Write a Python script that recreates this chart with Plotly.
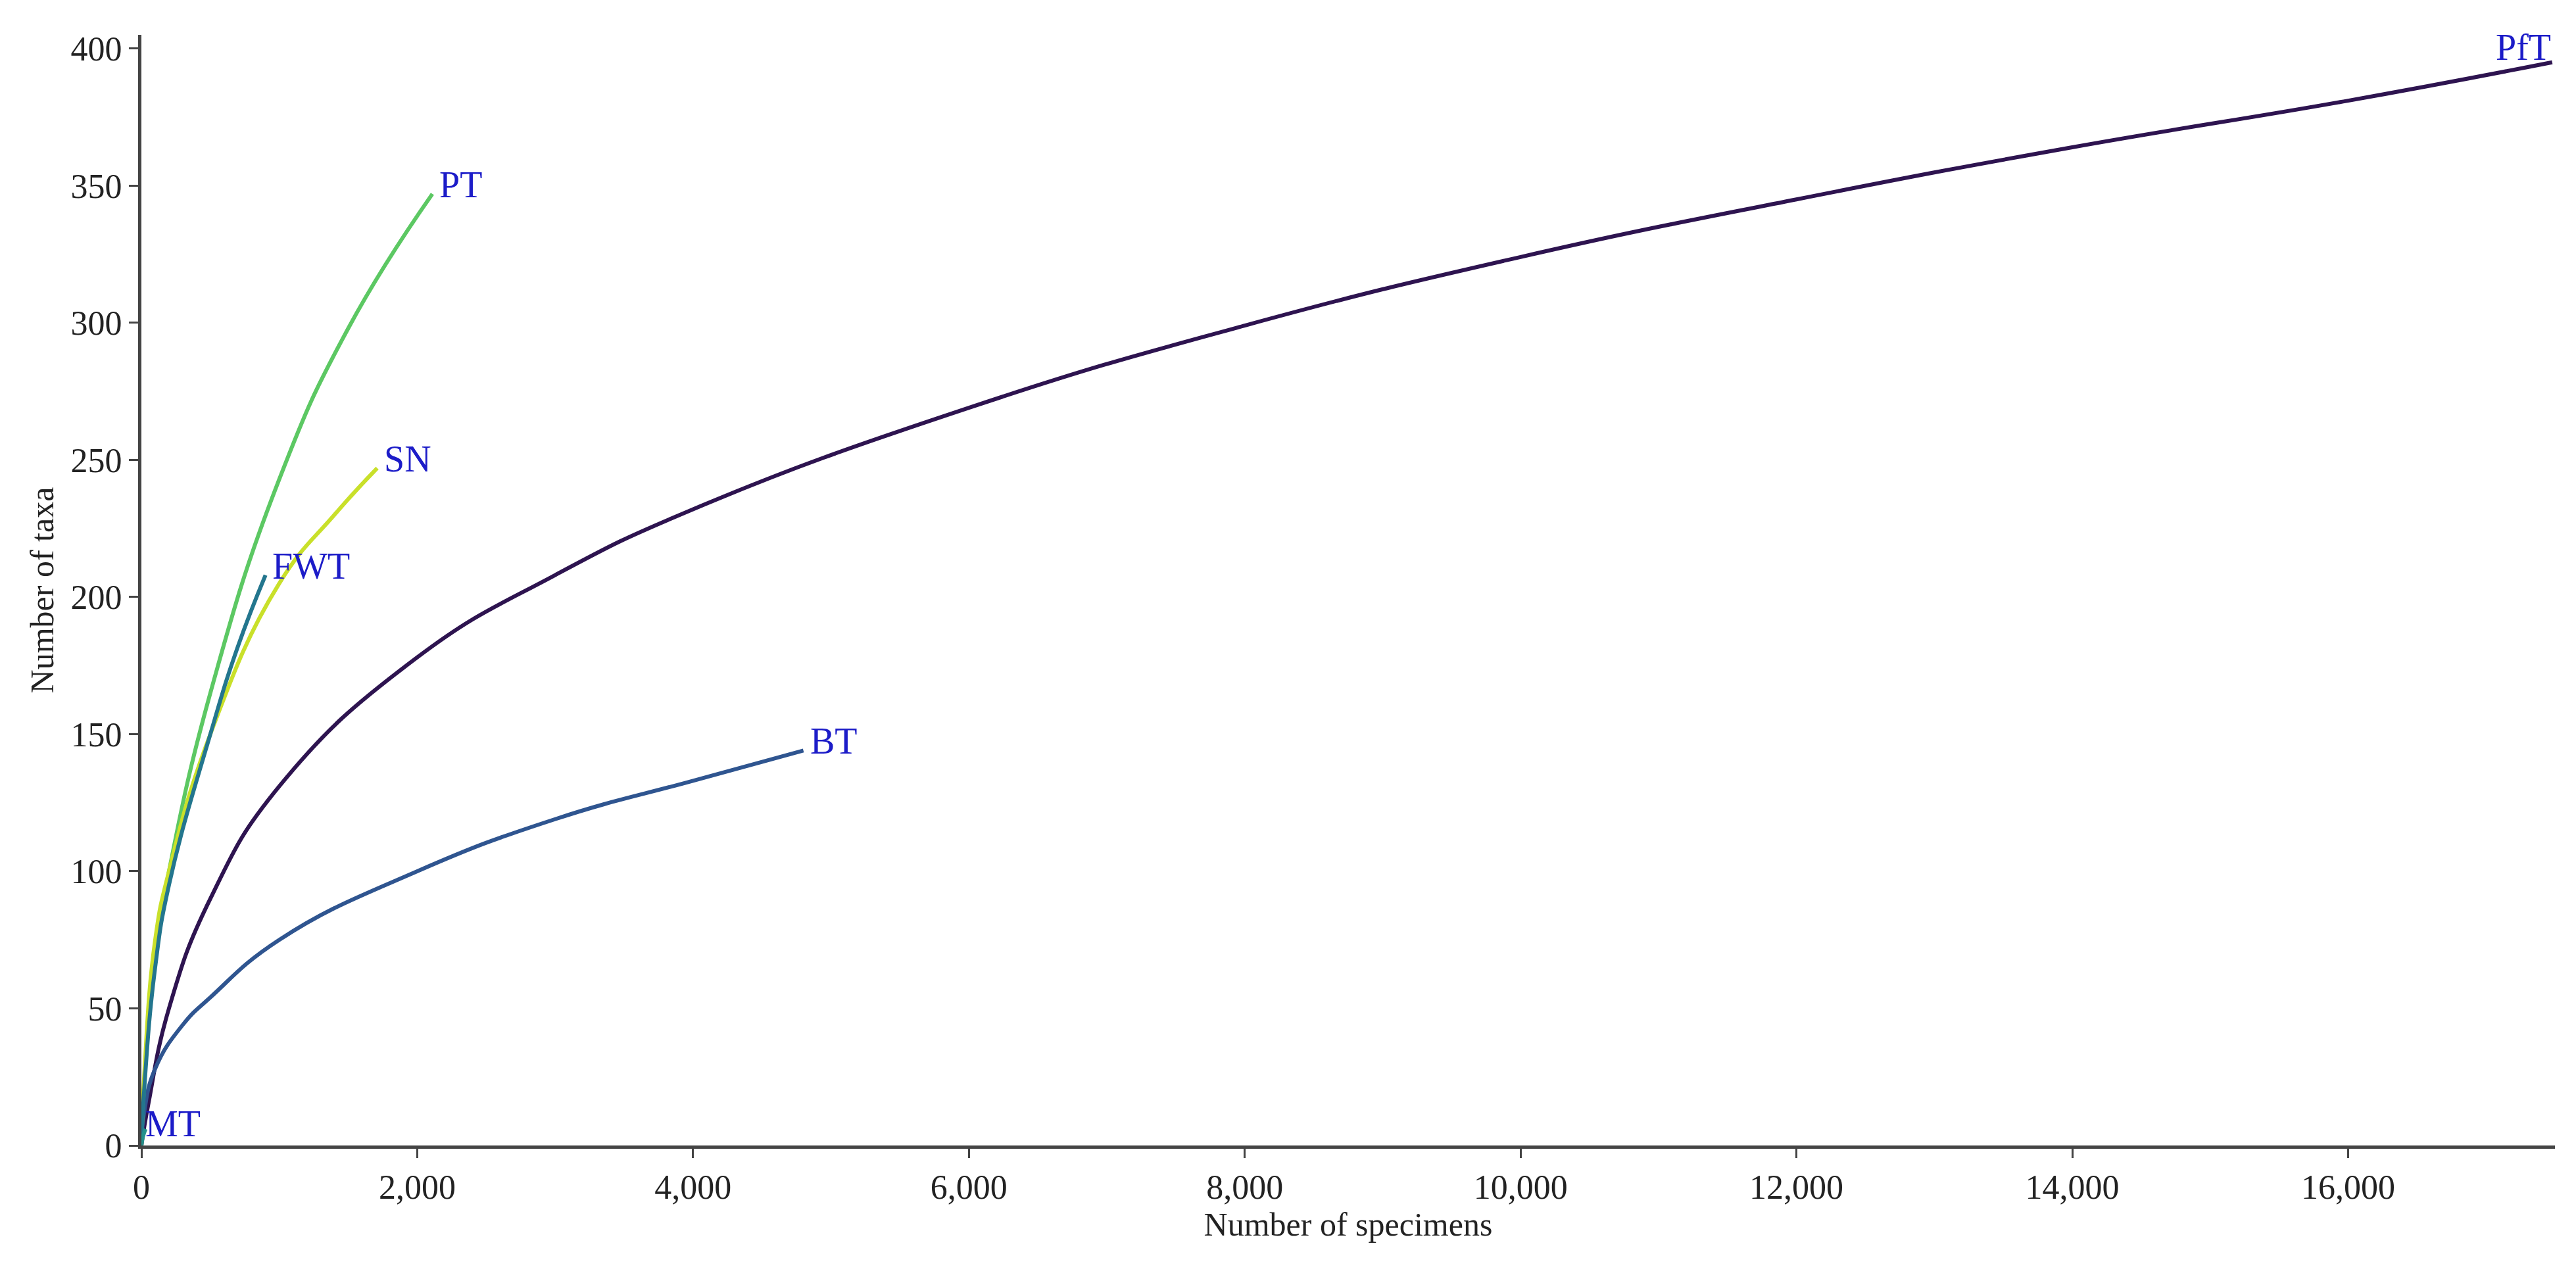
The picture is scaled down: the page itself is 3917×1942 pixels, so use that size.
import plotly.graph_objects as go

names = ["PfT", "BT", "PT", "SN", "FWT", "MT"]
colors = ["#2e1450", "#2f5590", "#5cc863", "#c9e02a", "#23768e", "#21918c"]
pft_x = [0, 50, 200, 500, 1000, 2000, 3000, 4000, 6000, 8000, 10000, 12000, 14000, 16000, 17480]
pft_y = [0, 15, 50, 90, 131, 178, 208, 232, 269, 299, 324, 345, 364, 381, 395]
bt_x = [0, 20, 100, 300, 500, 1000, 2000, 3000, 4000, 4800]
bt_y = [0, 12, 28, 44, 54, 75, 100, 119, 133, 144]
pt_x = [0, 20, 100, 200, 500, 1000, 1500, 2110]
pt_y = [0, 22, 70, 100, 165, 243, 298, 347]
sn_x = [0, 20, 100, 200, 500, 1000, 1400, 1710]
sn_y = [0, 25, 75, 100, 150, 205, 230, 247]
fwt_x = [0, 20, 100, 200, 500, 700, 900]
fwt_y = [0, 20, 65, 95, 150, 182, 208]
mt_x = [0, 10, 30]
mt_y = [0, 3, 6]
xs = [pft_x, bt_x, pt_x, sn_x, fwt_x, mt_x]
ys = [pft_y, bt_y, pt_y, sn_y, fwt_y, mt_y]

lab_font = dict(color="#1c1cc8", size=56, family="Liberation Serif")
fig = go.Figure()
for n, c, x, y in zip(names, colors, xs, ys):
    fig.add_trace(go.Scatter(x=x, y=y, mode="lines", line=dict(color=c, width=6, shape="spline", smoothing=1.3), name=n))
    ax, ay = (x[-1], y[-1])
    if n == "MT":
        fig.add_annotation(x=20, y=0, text=n, showarrow=False, xanchor="left", yanchor="bottom", font=lab_font)
    elif n == "PfT":
        fig.add_annotation(x=ax, y=ay, text=n, showarrow=False, xanchor="right", yanchor="bottom", yshift=-10, font=lab_font)
    else:
        fig.add_annotation(x=ax, y=ay, text=n, showarrow=False, xanchor="left", xshift=8, yshift=14, font=lab_font)

fig.update_layout(
    width=3917, height=1942, showlegend=False, plot_bgcolor="white", paper_bgcolor="white",
    margin=dict(l=207, r=40, t=45, b=208),
    font=dict(family="Liberation Serif", size=52, color="#222"),
)
fig.update_xaxes(range=[0, 17500], tickvals=list(range(0, 17000, 2000)),
                 ticktext=["0", "2,000", "4,000", "6,000", "8,000", "10,000", "12,000", "14,000", "16,000"],
                 showline=True, linecolor="#444", linewidth=5, ticks="outside", ticklen=14, tickwidth=3,
                 showgrid=False, zeroline=False, title=dict(text="Number of specimens", font=dict(size=50), standoff=12))
fig.update_yaxes(range=[0, 405], tickvals=list(range(0, 401, 50)),
                 showline=True, linecolor="#444", linewidth=5, ticks="outside", ticklen=14, tickwidth=3,
                 showgrid=False, zeroline=False, title=dict(text="Number of taxa", font=dict(size=50), standoff=12))
fig.write_html("out.html")
